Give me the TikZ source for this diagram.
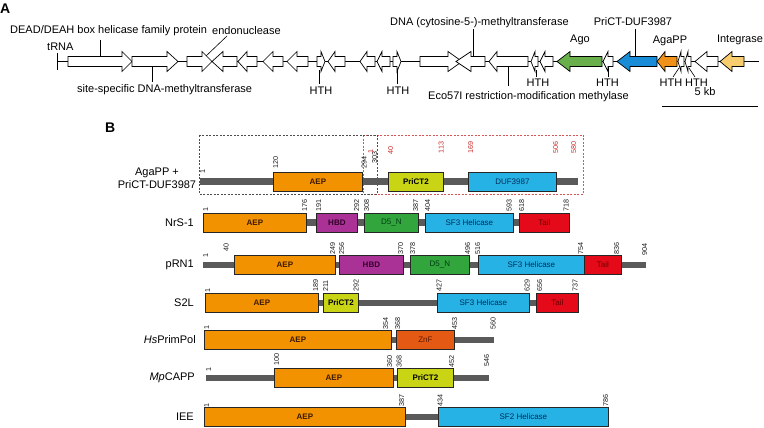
\documentclass[tikz,border=0pt]{standalone}
\usepackage{fontspec}
\setmainfont{Liberation Sans}
\definecolor{aep}{RGB}{243,146,0}
\definecolor{prict}{RGB}{200,212,20}
\definecolor{sfblue}{RGB}{38,178,228}
\definecolor{hbd}{RGB}{170,50,150}
\definecolor{dfive}{RGB}{50,165,60}
\definecolor{tail}{RGB}{228,10,25}
\definecolor{znf}{RGB}{228,90,20}
\definecolor{barg}{RGB}{90,90,90}
\definecolor{agoG}{RGB}{105,175,75}
\definecolor{pdBlue}{RGB}{25,140,215}
\definecolor{agaO}{RGB}{240,145,25}
\definecolor{intY}{RGB}{248,205,110}
\definecolor{rednum}{RGB}{205,45,45}
\definecolor{aeptext}{RGB}{60,25,0}
\definecolor{hbdtext}{RGB}{50,0,40}
\definecolor{dtext}{RGB}{0,60,20}
\definecolor{sftext}{RGB}{0,45,90}
\definecolor{tailtext}{RGB}{110,0,0}
\definecolor{znftext}{RGB}{100,25,0}
\newcommand{\gene}[4]{\filldraw[genestyle, fill=#4] (#1,56.5) -- (#2,56.5) -- (#2,51.5) -- (#3,61.5) -- (#2,71.5) -- (#2,66.5) -- (#1,66.5) -- cycle;}
\newcommand{\dom}[6]{\node[dombox, #5, minimum width={(#3-#2)*1pt}] (#1) at (#2,#4) {#6};}
\newcommand{\nm}[3]{\node[numlab] at (#1,#2) {#3};}
\newcommand{\rn}[3]{\node[rnum] at (#1,#2) {#3};}
\tikzset{
 genestyle/.style={draw=black, line width=0.7pt, line join=miter},
 atext/.style={font=\fontsize{11}{13}\selectfont, inner sep=0pt},
 lab/.style={line width=0.6pt},
 bar/.style={line width=6.5pt, draw=barg},
 dombox/.style={draw=black!85, line width=0.8pt, minimum height=19pt, inner sep=0pt, anchor=west},
 numlab/.style={rotate=90, anchor=north west, inner sep=0pt, font=\fontsize{7.2}{7.2}\selectfont, text=black!88},
 rnum/.style={numlab, text=rednum},
 rowlab/.style={font=\fontsize{11}{13}\selectfont, inner sep=0pt},
 aepS/.style={fill=aep, text=aeptext, font=\bfseries\fontsize{8}{8}\selectfont},
 prS/.style={fill=prict, text=black, font=\bfseries\fontsize{8}{8}\selectfont},
 hbdS/.style={fill=hbd, text=hbdtext, font=\bfseries\fontsize{8}{8}\selectfont},
 dS/.style={fill=dfive, text=dtext, font=\fontsize{8}{8}\selectfont},
 sfS/.style={fill=sfblue, text=sftext, font=\fontsize{8}{8}\selectfont},
 tailS/.style={fill=tail, text=tailtext, font=\fontsize{8}{8}\selectfont},
 znfS/.style={fill=znf, text=znftext, font=\fontsize{8}{8}\selectfont},
 bdash/.style={draw=black!70, line width=0.6pt, dash pattern=on 2pt off 1.5pt},
 rdash/.style={draw=rednum!80, line width=0.6pt, dash pattern=on 2pt off 1.5pt},
}
\begin{document}
\begin{tikzpicture}[x=1pt,y=-1pt]
\useasboundingbox (0,0) rectangle (764,428);
% ---------------- Panel A ----------------
\node[anchor=north west, inner sep=0pt, font=\bfseries\fontsize{14}{14}\selectfont] (A) at (0,4) {A};
\draw[line width=0.7pt] (57.5,61.5) -- (759,61.5);
\draw[line width=0.9pt] (57.5,53) -- (57.5,70);
\gene{68}{122}{132}{white}
\gene{132}{167}{178}{white}
\gene{187}{202}{212}{white}
\gene{237}{223}{212}{white}
\gene{257}{247}{238}{white}
\gene{283}{273}{263}{white}
\gene{308}{297}{287}{white}
\gene{317}{321}{325}{white}
\gene{345}{335}{328}{white}
\gene{375}{367}{360}{white}
\gene{390}{382}{377}{white}
\gene{393}{397}{401}{white}
\gene{420}{448}{462}{white}
\gene{485}{471}{456}{white}
\gene{528}{497}{489}{white}
\gene{538}{535}{531}{white}
\gene{553}{545}{540}{white}
\gene{602}{570}{557}{agoG}
\gene{613}{608}{603}{white}
\gene{657}{630}{617}{pdBlue}
\gene{677}{665}{657}{agaO}
\gene{684}{681}{678}{white}
\gene{691}{688}{685}{white}
\gene{718}{707}{695}{white}
\gene{744}{732}{720}{intY}
% labels
\node[atext, anchor=west] (tRNA) at (47,46.5) {tRNA};
\node[atext, anchor=west] (dead) at (10,31) {DEAD/DEAH box helicase family protein};
\node[atext, anchor=west] (endo) at (212,31) {endonuclease};
\node[atext, anchor=west] (ssm) at (77,90) {site-specific DNA-methyltransferase};
\node[atext, anchor=west] (dcm) at (390,23) {DNA (cytosine-5-)-methyltransferase};
\node[atext, anchor=west] (eco) at (428,97) {Eco57I restriction-modification methylase};
\node[atext] (hth1) at (321,91) {HTH};
\node[atext] (hth2) at (398,91) {HTH};
\node[atext] (hth3) at (538,82.5) {HTH};
\node[atext] (hth4) at (607.5,82.5) {HTH};
\node[atext] (hth5) at (671,82.5) {HTH};
\node[atext] (hth6) at (696.5,82.5) {HTH};
\node[atext] (ago) at (580,40) {Ago};
\node[atext] (pdl) at (633,22) {PriCT-DUF3987};
\node[atext] (agal) at (670,41) {AgaPP};
\node[atext] (intl) at (740,40) {Integrase};
\node[atext] (kb) at (705,92) {5 kb};
\draw[line width=0.8pt] (662,106) -- (758,106);
\draw[lab] (100,40) -- (100,56.5);
\draw[lab] (227,36) -- (206,56);
\draw[lab] (152,66.5) -- (152,82);
\draw[lab] (319,70) -- (319,84);
\draw[lab] (397,70) -- (397,84);
\draw[lab] (473,29) -- (473,56.5);
\draw[lab] (508,66.5) -- (508,86);
\draw[lab] (536,70) -- (536,77);
\draw[lab] (608,66.5) -- (608,77);
\draw[lab] (679,68) -- (673,77);
\draw[lab] (689,68) -- (695,77);
\draw[lab] (635,29) -- (635,56.5);
% ---------------- Panel B ----------------
\node[anchor=north west, inner sep=0pt, font=\bfseries\fontsize{14}{14}\selectfont] (B) at (105,123) {B};
\draw[rdash] (363,135) rectangle (583,194);
\draw[bdash] (199,135) rectangle (377,194);
% row 1
\node[rowlab, align=center] (r1) at (157,178) {AgaPP +\\PriCT-DUF3987};
\draw[bar] (200,181.5) -- (578,181.5);
\dom{r1a}{273}{362}{181.5}{aepS}{AEP}
\dom{r1b}{388}{443}{181.5}{prS}{PriCT2}
\dom{r1c}{468}{556}{181.5}{sfS}{DUF3987}
\nm{200}{174}{1}\nm{273}{168.5}{120}\nm{361.5}{168.5}{294}\nm{372}{163.5}{303}
\rn{368}{153.5}{1}\rn{388}{155}{40}\rn{438.5}{153.5}{113}\rn{468}{153.5}{169}\rn{553}{153.5}{506}\rn{571}{153.5}{580}
% row 2
\node[rowlab, anchor=east] (r2) at (194,222.5) {NrS-1};
\draw[bar] (203,222.5) -- (569,222.5);
\dom{r2a}{203}{306}{222.5}{aepS}{AEP}
\dom{r2b}{316}{357}{222.5}{hbdS}{HBD}
\dom{r2c}{364}{418}{222.5}{dS}{D5\_N}
\dom{r2d}{425}{513}{222.5}{sfS}{SF3 Helicase}
\dom{r2e}{519}{569}{222.5}{tailS}{Tail}
\nm{203}{211.5}{1}\nm{302}{211.5}{176}\nm{316}{211.5}{191}\nm{354}{211.5}{292}\nm{364}{211.5}{308}
\nm{413}{211.5}{387}\nm{425}{211.5}{404}\nm{506.5}{211.5}{593}\nm{519}{211.5}{618}\nm{563.5}{211.5}{718}
% row 3
\node[rowlab, anchor=east] (r3) at (194,265) {pRN1};
\draw[bar] (203,265) -- (646,265);
\dom{r3a}{234}{335}{265}{aepS}{AEP}
\dom{r3b}{339}{403}{265}{hbdS}{HBD}
\dom{r3c}{410}{469}{265}{dS}{D5\_N}
\dom{r3d}{478}{584}{265}{sfS}{SF3 Helicase}
\dom{r3e}{584}{621}{265}{tailS}{Tail}
\nm{203}{257.5}{1}\nm{223.5}{252}{40}\nm{330}{255}{249}\nm{339}{255}{256}\nm{398}{255}{370}\nm{410}{255}{378}
\nm{465}{255}{496}\nm{475}{255}{516}\nm{578}{255}{754}\nm{614}{255}{836}\nm{642}{255.5}{904}
% row 4
\node[rowlab, anchor=east] (r4) at (194,303) {S2L};
\draw[bar] (205,303) -- (578,303);
\dom{r4a}{205}{318}{303}{aepS}{AEP}
\dom{r4b}{323}{358}{303}{prS}{PriCT2}
\dom{r4c}{437}{529}{303}{sfS}{SF3 Helicase}
\dom{r4d}{536}{578}{303}{tailS}{Tail}
\nm{205}{292.5}{1}\nm{313}{292}{189}\nm{323}{292}{211}\nm{353.5}{292}{292}\nm{436.5}{292}{427}
\nm{524.5}{292}{629}\nm{537}{292}{656}\nm{572.5}{292}{737}
% row 5
\node[rowlab, anchor=east] (r5) at (196,340) {\itshape Hs\upshape PrimPol};
\draw[bar] (204,340) -- (494,340);
\dom{r5a}{204}{391}{340}{aepS}{AEP}
\dom{r5b}{396}{454}{340}{znfS}{ZnF}
\nm{204}{330}{1}\nm{383}{330}{354}\nm{395}{330}{368}\nm{452}{330}{453}\nm{490.5}{330}{560}
% row 6
\node[rowlab, anchor=east] (r6) at (195,378) {\itshape Mp\upshape CAPP};
\draw[bar] (206,378) -- (489,378);
\dom{r6a}{274}{393}{378}{aepS}{AEP}
\dom{r6b}{397}{453}{378}{prS}{PriCT2}
\nm{206}{372}{1}\nm{274}{366}{100}\nm{387}{367.5}{360}\nm{396.5}{367.5}{368}\nm{449}{367.5}{452}\nm{484}{367}{546}
% row 7
\node[rowlab, anchor=east] (r7) at (194,417) {IEE};
\draw[bar] (204,417) -- (608,417);
\dom{r7a}{204}{405}{417}{aepS}{AEP}
\dom{r7b}{438}{608}{417}{sfS}{SF2 Helicase}
\nm{204}{407.5}{1}\nm{399}{407}{387}\nm{437.5}{407}{434}\nm{603}{407}{786}
\end{tikzpicture}
\end{document}
